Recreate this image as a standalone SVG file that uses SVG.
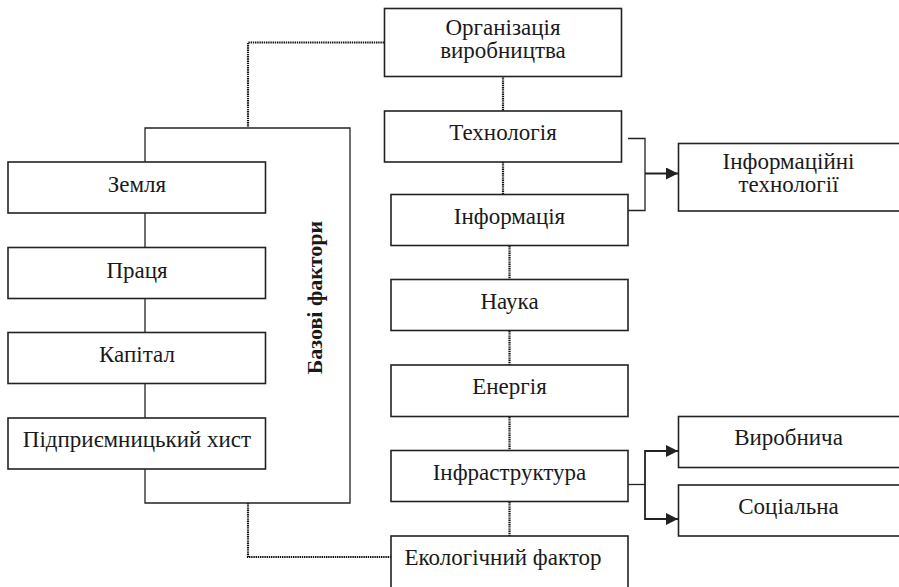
<svg xmlns="http://www.w3.org/2000/svg" width="899" height="587" viewBox="0 0 899 587">
<style>
.box{fill:#fff;stroke:#222;stroke-width:1.6}
.t{font-family:"Liberation Serif","DejaVu Serif",serif;font-size:23px;fill:#1a1a1a;text-anchor:middle}
.b{font-weight:bold;font-size:22px}
.solid{fill:none;stroke:#222;stroke-width:1.3}
.dot{fill:none;stroke:#111;stroke-width:2.2;stroke-dasharray:1.4 0.8}
.arr{fill:none;stroke:#222;stroke-width:1.8}
</style>
<defs>
<marker id="ah" viewBox="0 0 12 12" refX="12" refY="6" markerWidth="12" markerHeight="12" markerUnits="userSpaceOnUse" orient="auto">
<path d="M0,0 L12,6 L0,12 Z" fill="#222"/>
</marker>
</defs>
<g id="connectors">
<path class="dot" d="M384,42.5 H248 V127"/>
<path class="dot" d="M248,503 V557 H391"/>
<path class="solid" d="M145,162 V128 H350 V503 H145 V469"/>
<path class="solid" d="M145,213 V247"/>
<path class="solid" d="M145,298 V332"/>
<path class="solid" d="M145,383 V418"/>
<path class="dot" d="M503,76 V111"/>
<path class="dot" d="M503,162 V194"/>
<path class="dot" d="M509.5,246 V279"/>
<path class="dot" d="M509.5,331 V365"/>
<path class="dot" d="M509.5,417 V451"/>
<path class="dot" d="M509.5,502 V536"/>
<path class="solid" d="M628,138.5 H645 V210.5 H628"/>
<path class="arr" d="M645,173.5 H678" marker-end="url(#ah)"/>
<path class="solid" d="M628,484.5 H645"/>
<path class="arr" d="M678,451 H645 V519 H678" marker-end="url(#ah)"/>
<path class="arr" d="M645,451 H678" marker-end="url(#ah)"/>
</g>
<g id="zemlya"><rect class="box" x="8" y="162" width="257.5" height="51"/><text class="t" x="137" y="192">Земля</text></g>
<g id="pratsia"><rect class="box" x="8" y="247.5" width="257.5" height="51"/><text class="t" x="137" y="277.5">Праця</text></g>
<g id="kapital"><rect class="box" x="8" y="332.5" width="257.5" height="51"/><text class="t" x="137" y="362">Капітал</text></g>
<g id="pidpr"><rect class="box" x="8" y="418" width="257.5" height="51"/><text class="t" x="137" y="447">Підприємницький хист</text></g>
<g id="bazovi"><text class="t b" transform="translate(322,297.5) rotate(-90)">Базові фактори</text></g>
<g id="org"><rect class="box" x="384.5" y="8.5" width="237" height="68"/><text class="t" x="503" y="34.5">Організація</text><text class="t" x="503" y="57.5">виробництва</text></g>
<g id="tech"><rect class="box" x="384.5" y="111" width="237" height="51"/><text class="t" x="503" y="140">Технологія</text></g>
<g id="info"><rect class="box" x="391" y="194.5" width="237" height="51"/><text class="t" x="509.5" y="224">Інформація</text></g>
<g id="nauka"><rect class="box" x="391" y="279.5" width="237" height="51"/><text class="t" x="509.5" y="309">Наука</text></g>
<g id="energy"><rect class="box" x="391" y="365" width="237" height="51.5"/><text class="t" x="509.5" y="394">Енергія</text></g>
<g id="infra"><rect class="box" x="391" y="450.5" width="237" height="51"/><text class="t" x="509.5" y="480">Інфраструктура</text></g>
<g id="ekol"><rect class="box" x="391" y="536" width="237" height="60"/><text class="t" x="503" y="565">Екологічний фактор</text></g>
<g id="infotech"><rect class="box" x="678.5" y="143.5" width="230" height="67.5"/><text class="t" x="788.5" y="168.5">Інформаційні</text><text class="t" x="788.5" y="192">технології</text></g>
<g id="vyrob"><rect class="box" x="678.5" y="416.5" width="230" height="51"/><text class="t" x="788.5" y="445">Виробнича</text></g>
<g id="sots"><rect class="box" x="678.5" y="485" width="230" height="51"/><text class="t" x="788.5" y="513.5">Соціальна</text></g>
</svg>
